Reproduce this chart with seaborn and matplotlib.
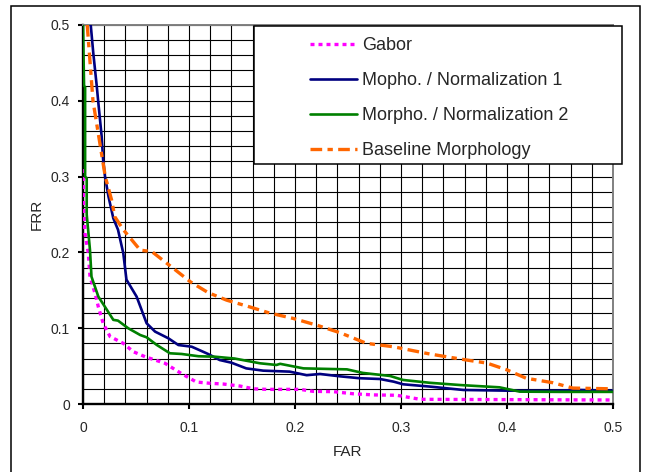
import matplotlib
matplotlib.use("Agg")
import matplotlib.pyplot as plt
from matplotlib.patches import Rectangle
from matplotlib.ticker import MultipleLocator
import seaborn as sns
import pandas as pd


# FAR / FRR curves
gabor_far = [0.0, 0.0003, 0.0019, 0.005, 0.0066, 0.0113, 0.0145, 0.019, 0.0255, 0.038, 0.0475,
             0.0585, 0.0774, 0.093, 0.107, 0.120, 0.132, 0.148, 0.161, 0.173, 0.192, 0.205,
             0.217, 0.236, 0.255, 0.274, 0.296, 0.318, 0.35, 0.4, 0.45, 0.5]
gabor_frr = [0.31, 0.269, 0.225, 0.199, 0.168, 0.146, 0.128, 0.1065, 0.089, 0.080, 0.069,
             0.0624, 0.0537, 0.040, 0.029, 0.0273, 0.0264, 0.0237, 0.020, 0.0193, 0.0193, 0.0193,
             0.0167, 0.0163, 0.0135, 0.012, 0.0115, 0.0062, 0.006, 0.0058, 0.0055, 0.0053]

norm1_far = [0.0073, 0.0097, 0.013, 0.0145, 0.0176, 0.019, 0.0208, 0.024, 0.0286, 0.033, 0.038,
             0.041, 0.0506, 0.060, 0.068, 0.0805, 0.090, 0.1025, 0.110, 0.118, 0.129, 0.140,
             0.154, 0.170, 0.195, 0.211, 0.2236, 0.2425, 0.261, 0.280, 0.293, 0.302, 0.327,
             0.359, 0.40, 0.4435, 0.469, 0.5]
norm1_frr = [0.5, 0.463, 0.419, 0.397, 0.353, 0.322, 0.300, 0.274, 0.245, 0.23, 0.199,
             0.164, 0.1416, 0.1065, 0.0955, 0.0867, 0.0778, 0.0756, 0.071, 0.066, 0.058, 0.0545,
             0.047, 0.044, 0.0427, 0.038, 0.0396, 0.0365, 0.034, 0.033, 0.0295, 0.026, 0.023,
             0.0185, 0.0176, 0.0176, 0.0185, 0.0176]

norm2_far = [0.0, 0.0005, 0.001, 0.002, 0.002, 0.0035, 0.0035, 0.0066, 0.008, 0.0145, 0.0208,
             0.0286, 0.033, 0.0427, 0.054, 0.060, 0.0695, 0.082, 0.093, 0.109, 0.1245, 0.143,
             0.167, 0.1825, 0.186, 0.208, 0.249, 0.264, 0.2896, 0.302, 0.327, 0.356, 0.393,
             0.412, 0.45, 0.5]
norm2_frr = [0.5, 0.46, 0.42, 0.418, 0.30, 0.298, 0.25, 0.203, 0.168, 0.1416, 0.128,
             0.111, 0.110, 0.0999, 0.091, 0.088, 0.078, 0.0669, 0.066, 0.063, 0.0624, 0.060,
             0.0537, 0.0515, 0.053, 0.047, 0.0457, 0.041, 0.037, 0.0317, 0.028, 0.025, 0.022,
             0.0163, 0.016, 0.016]

base_far = [0.004, 0.0094, 0.021, 0.027, 0.030, 0.038, 0.054, 0.065, 0.087, 0.1015, 0.118,
            0.1355, 0.1575, 0.176, 0.198, 0.2205, 0.2425, 0.2675, 0.2925, 0.327, 0.362, 0.381,
            0.40, 0.418, 0.4435, 0.462, 0.5]
base_frr = [0.5, 0.40, 0.30, 0.269, 0.247, 0.23, 0.203, 0.201, 0.177, 0.161, 0.147,
            0.137, 0.128, 0.120, 0.113, 0.104, 0.094, 0.080, 0.0756, 0.066, 0.058, 0.054,
            0.045, 0.034, 0.028, 0.021, 0.020]

labels = ['Gabor', 'Mopho. / Normalization 1', 'Morpho. / Normalization 2', 'Baseline Morphology']

sns.set_style("ticks")
plt.rcParams['font.family'] = ['Liberation Sans', 'DejaVu Sans']

fig = plt.figure(figsize=(6.45, 4.72), dpi=100)
ax = fig.add_axes([83 / 645, 1 - 404 / 472, 530 / 645, 379 / 472])

series = [
    (gabor_far, gabor_frr, labels[0], '#FF00FF', (0, (1.2, 1.2)), 2.4),
    (norm1_far, norm1_frr, labels[1], '#000080', '-', 1.9),
    (norm2_far, norm2_frr, labels[2], '#008000', '-', 1.9),
    (base_far, base_frr, labels[3], '#FF6600', (0, (3.5, 1.6, 1.6, 1.6)), 2.4),
]
for far, frr, name, col, ls, lw in series:
    d = pd.DataFrame({'FAR': far, 'FRR': frr})
    sns.lineplot(data=d, x='FAR', y='FRR', ax=ax, color=col, linestyle=ls, linewidth=lw,
                 label=name, estimator=None, sort=False, zorder=3)

ax.set_xlim(0, 0.5)
ax.set_ylim(0, 0.5)
ax.xaxis.set_major_locator(MultipleLocator(0.1))
ax.yaxis.set_major_locator(MultipleLocator(0.1))
ax.xaxis.set_minor_locator(MultipleLocator(0.02))
ax.yaxis.set_minor_locator(MultipleLocator(0.02))
ax.xaxis.set_major_formatter(lambda v, p: f'{v:g}')
ax.yaxis.set_major_formatter(lambda v, p: f'{v:g}')
ax.grid(True, which='both', color='black', linewidth=0.8)
ax.set_axisbelow(True)
ax.tick_params(which='major', direction='out', length=3.5, width=1.5, labelsize=10, color='black')
ax.tick_params(axis='x', which='major', pad=9)
ax.tick_params(axis='y', which='major', pad=6)
ax.tick_params(which='minor', length=0)

for s in ['left', 'bottom']:
    ax.spines[s].set_linewidth(1.7)
    ax.spines[s].set_color('black')
for s in ['top', 'right']:
    ax.spines[s].set_linewidth(1.4)
    ax.spines[s].set_color('#808080')

ax.set_xlabel('FAR', fontsize=11)
ax.set_ylabel('FRR', fontsize=11)
ax.xaxis.set_label_coords(0.5, -0.108)
ax.yaxis.set_label_coords(-0.075, 0.5)

# legend box drawn by hand so the padding matches
ax.add_patch(Rectangle((254 / 645, 1 - 164 / 472), 368 / 645, 138 / 472, transform=fig.transFigure,
                       facecolor='white', edgecolor='black', linewidth=1.1, clip_on=False, zorder=4))
leg = ax.legend(loc='upper left', bbox_to_anchor=(310 / 645, 1 - 37 / 472), bbox_transform=fig.transFigure,
                frameon=False, borderpad=0, borderaxespad=0, fontsize=13, handlelength=2.6,
                handletextpad=0.3, labelspacing=1.0)
leg.set_zorder(5)

# outer frame around the whole chart
fig.add_artist(Rectangle((11 / 645, -0.05), 629 / 645, 1.05 - 6 / 472, transform=fig.transFigure,
                         fill=False, edgecolor='black', linewidth=1.1))

fig.savefig('out.png', dpi=100)
